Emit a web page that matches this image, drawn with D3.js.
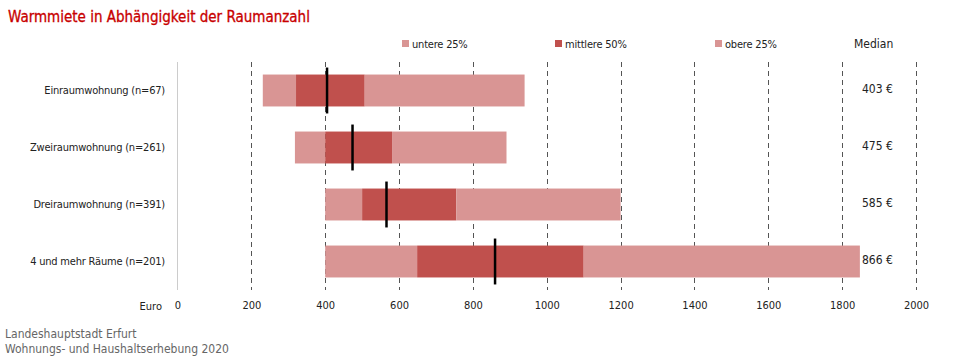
<!DOCTYPE html>
<html><head><meta charset="utf-8">
<script src="https://cdn.jsdelivr.net/npm/d3@7"></script>
<style>
body{margin:0;background:#fff;}
text{font-family:"DejaVu Sans Condensed","DejaVu Sans",sans-serif;}
</style></head>
<body><svg id="c" width="960" height="360"></svg>
<script>
const categories = ["Einraumwohnung (n=67)", "Zweiraumwohnung (n=261)", "Dreiraumwohnung (n=391)", "4 und mehr Räume (n=201)"];
const minV = [231, 318, 400, 400];
const q1V = [321, 400, 500, 649];
const q3V = [507, 581, 755, 1100];
const maxV = [940, 891, 1200, 1848];
const medianLine = [405, 474, 566, 860];
const medianLabel = ["403 €", "475 €", "585 €", "866 €"];
const ticks = [0, 200, 400, 600, 800, 1000, 1200, 1400, 1600, 1800, 2000];
const legendItems = ["untere 25%", "mittlere 50%", "obere 25%"];
const light = "#d99594", dark = "#c0504d";

const svg = d3.select("#c");
const x = d3.scaleLinear().domain([0, 2000]).range([177.5, 916]);
const y = d3.scaleBand().domain(categories).range([62, 290]).paddingInner(0.44).paddingOuter(0.22);

svg.append("text").attr("x", 8).attr("y", 22).attr("fill", "#c80000")
  .attr("font-size", 15).attr("stroke", "#c80000").attr("stroke-width", 0.3)
  .text("Warmmiete in Abhängigkeit der Raumanzahl");

// gridlines
svg.append("g").selectAll("line").data(ticks.slice(1)).join("line")
  .attr("x1", d => Math.round(x(d)) + 0.5).attr("x2", d => Math.round(x(d)) + 0.5)
  .attr("y1", 62).attr("y2", 290).attr("stroke", "#555").attr("stroke-dasharray", "5,4");
svg.append("line").attr("x1", x(0)).attr("x2", x(0)).attr("y1", 62).attr("y2", 290).attr("stroke", "#ccc");

// x tick labels
const xa = svg.append("g").attr("transform", "translate(0,301)")
  .call(d3.axisBottom(x).tickValues(ticks).tickSize(0).tickPadding(0).tickFormat(d3.format("d")));
xa.select(".domain").remove();
xa.selectAll("text").attr("font-size", 11).attr("fill", "#222").attr("font-family", null);
svg.append("text").attr("x", 162).attr("y", 310).attr("text-anchor", "end").attr("font-size", 11).attr("fill", "#222").text("Euro");

// category labels
svg.append("g").selectAll("text").data(categories).join("text")
  .attr("x", 165).attr("y", d => y(d) + y.bandwidth() / 2).attr("dy", "0.35em")
  .attr("text-anchor", "end").attr("font-size", 11).attr("letter-spacing", -0.2).attr("fill", "#222").text(d => d);

// bars
const segs = [];
categories.forEach((c, i) => {
  segs.push({c, a: minV[i], b: q1V[i], col: light});
  segs.push({c, a: q1V[i], b: q3V[i], col: dark});
  segs.push({c, a: q3V[i], b: maxV[i], col: light});
});
svg.append("g").selectAll("rect").data(segs).join("rect")
  .attr("x", d => x(d.a)).attr("width", d => x(d.b) - x(d.a))
  .attr("y", d => y(d.c)).attr("height", y.bandwidth()).attr("fill", d => d.col);

// median lines
svg.append("g").selectAll("line").data(categories).join("line")
  .attr("x1", (d, i) => x(medianLine[i])).attr("x2", (d, i) => x(medianLine[i]))
  .attr("y1", d => y(d) - 7).attr("y2", d => y(d) + y.bandwidth() + 7)
  .attr("stroke", "#000").attr("stroke-width", 2.5);

// median labels
svg.append("g").selectAll("text").data(categories).join("text")
  .attr("x", 862).attr("y", d => y(d) + y.bandwidth() / 2 - 2).attr("dy", "0.35em")
  .attr("font-size", 12).attr("fill", "#222").text((d, i) => medianLabel[i]);
svg.append("text").attr("x", 854).attr("y", 48).attr("font-size", 12).attr("fill", "#222").text("Median");

// legend
const lx = [402, 555, 715];
const lg = svg.append("g").selectAll("g").data(legendItems).join("g")
  .attr("transform", (d, i) => `translate(${lx[i]},40)`);
lg.append("rect").attr("width", 7).attr("height", 7).attr("fill", (d, i) => i === 1 ? dark : light);
lg.append("text").attr("x", 10).attr("y", 8).attr("font-size", 11).attr("letter-spacing", -0.2).attr("fill", "#222").text(d => d);

// source
svg.append("text").attr("x", 5).attr("y", 338).attr("font-size", 12).attr("fill", "#666").text("Landeshauptstadt Erfurt");
svg.append("text").attr("x", 5).attr("y", 353).attr("font-size", 12).attr("fill", "#666").text("Wohnungs- und Haushaltserhebung 2020");
</script></body></html>
